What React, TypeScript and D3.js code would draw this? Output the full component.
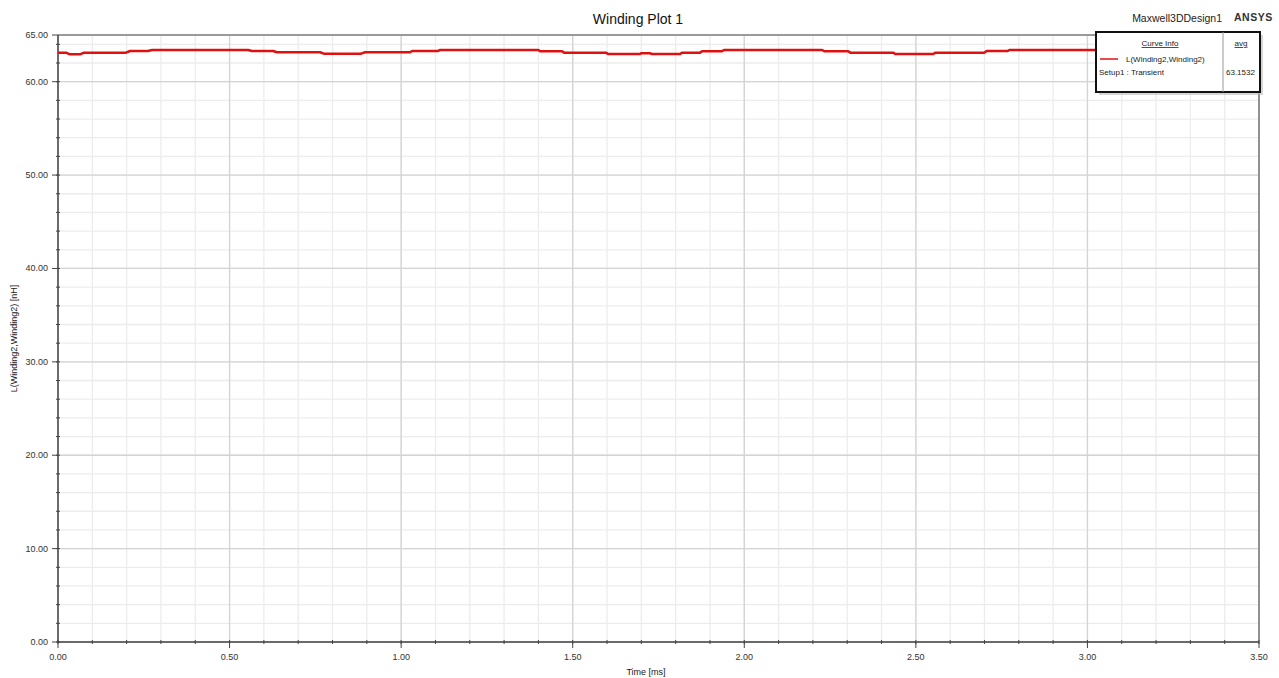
import React from "react";
import * as d3 from "d3";

const timeMs = [0, 0.023, 0.035, 0.064, 0.076, 0.198, 0.21, 0.262, 0.274, 0.554, 0.565, 0.627, 0.638, 0.764, 0.775, 0.883, 0.895, 1.026, 1.032, 1.108, 1.114, 1.4, 1.405, 1.469, 1.475, 1.597, 1.603, 1.696, 1.699, 1.725, 1.731, 1.813, 1.819, 1.871, 1.877, 1.935, 1.941, 2.227, 2.233, 2.303, 2.309, 2.434, 2.44, 2.551, 2.557, 2.7, 2.706, 2.768, 2.774, 3.5];
const inductance = [63.11, 63.11, 62.93, 62.93, 63.11, 63.11, 63.29, 63.29, 63.4, 63.4, 63.29, 63.29, 63.15, 63.15, 63.0, 63.0, 63.15, 63.15, 63.29, 63.29, 63.4, 63.4, 63.26, 63.26, 63.11, 63.11, 62.97, 62.97, 63.04, 63.04, 62.97, 62.97, 63.11, 63.11, 63.26, 63.26, 63.4, 63.4, 63.26, 63.26, 63.11, 63.11, 62.97, 62.97, 63.11, 63.11, 63.29, 63.29, 63.4, 63.4];
const xTicks = [0, 0.5, 1.0, 1.5, 2.0, 2.5, 3.0, 3.5];
const yTicks = [0, 10, 20, 30, 40, 50, 60, 65];
const title = "Winding Plot 1";
const xLabel = "Time [ms]";
const yLabel = "L(Winding2,Winding2) [nH]";
const seriesName = "L(Winding2,Winding2)";
const setupName = "Setup1 : Transient";
const avgValue = "63.1532";

export default function App() {
  const W = 1279, H = 678;
  const L = 58, R = 1259, T = 35, B = 642;
  const x = d3.scaleLinear().domain([0, 3.5]).range([L, R]);
  const y = d3.scaleLinear().domain([0, 65]).range([B, T]);
  const minorX = d3.range(0, 3.5001, 0.1).map((v) => +v.toFixed(2));
  const minorY = d3.range(0, 65.001, 2);
  const pts = timeMs.map((t, i) => [t, inductance[i]] as [number, number]);
  const line = d3.line<[number, number]>().x((d) => x(d[0])).y((d) => y(d[1]));
  const font = "'Liberation Sans', Arial, sans-serif";
  const lx = 1096, ly = 32, lw = 164, lh = 60;
  return (
    <svg width={W} height={H} style={{ position: "absolute", left: 0, top: 0, background: "#fff" }} fontFamily={font}>
      <rect x={0} y={0} width={W} height={H} fill="#fff" />
      {minorX.map((v, i) => (
        <line key={"mx" + i} x1={x(v)} x2={x(v)} y1={T} y2={B} stroke="#ececec" strokeWidth={1.3} />
      ))}
      {minorY.map((v, i) => (
        <line key={"my" + i} x1={L} x2={R} y1={y(v)} y2={y(v)} stroke="#ececec" strokeWidth={1.3} />
      ))}
      {xTicks.map((v, i) => (
        <line key={"gx" + i} x1={x(v)} x2={x(v)} y1={T} y2={B} stroke="#d4d4d4" strokeWidth={1.3} />
      ))}
      {yTicks.map((v, i) => (
        <line key={"gy" + i} x1={L} x2={R} y1={y(v)} y2={y(v)} stroke="#d4d4d4" strokeWidth={1.3} />
      ))}
      <line x1={L} x2={R} y1={T} y2={T} stroke="#9a9a9a" strokeWidth={2} />
      <line x1={R} x2={R} y1={T} y2={B} stroke="#777" strokeWidth={1.5} />
      <line x1={L} x2={L} y1={T} y2={B + 1} stroke="#444" strokeWidth={1.5} />
      <line x1={L - 1} x2={R} y1={B} y2={B} stroke="#444" strokeWidth={1.5} />
      {minorX.map((v, i) => (
        <line key={"tx" + i} x1={x(v)} x2={x(v)} y1={B - 2} y2={B + 2} stroke="#444" strokeWidth={1} />
      ))}
      {minorY.map((v, i) => (
        <line key={"ty" + i} x1={L - 2} x2={L + 2} y1={y(v)} y2={y(v)} stroke="#444" strokeWidth={1} />
      ))}
      {xTicks.map((v, i) => (
        <g key={"xl" + i}>
          <line x1={x(v)} x2={x(v)} y1={B} y2={B + 6} stroke="#444" strokeWidth={1} />
          <text x={x(v)} y={B + 18} textAnchor="middle" fontSize={9} fill="#333">{v.toFixed(2)}</text>
        </g>
      ))}
      {yTicks.map((v, i) => (
        <g key={"yl" + i}>
          <line x1={L - 6} x2={L} y1={y(v)} y2={y(v)} stroke="#444" strokeWidth={1} />
          <text x={L - 10} y={y(v) + 3} textAnchor="end" fontSize={9} fill="#333">{v.toFixed(2)}</text>
        </g>
      ))}
      <path d={line(pts) || ""} fill="none" stroke="#e01010" strokeWidth={2.5} strokeLinejoin="round" />
      <text x={638} y={24} textAnchor="middle" fontSize={14} fill="#111">{title}</text>
      <text x={1222} y={22} textAnchor="end" fontSize={10.5} fill="#222">Maxwell3DDesign1</text>
      <text x={1234} y={21} fontSize={10.5} fontWeight="bold" fill="#333" letterSpacing={0.5}>ANSYS</text>
      <text x={646} y={675} textAnchor="middle" fontSize={9} fill="#222">{xLabel}</text>
      <text transform={`translate(17,${(T + B) / 2}) rotate(-90)`} textAnchor="middle" fontSize={9} fill="#222">{yLabel}</text>
      <rect x={lx + 3} y={ly + 3} width={lw} height={lh} fill="#bbb" opacity={0.6} />
      <rect x={lx} y={ly} width={lw} height={lh} fill="#fff" stroke="#111" strokeWidth={2} />
      <line x1={1223} x2={1223} y1={ly} y2={ly + lh} stroke="#999" strokeWidth={1} />
      <text x={1160} y={46} textAnchor="middle" fontSize={8} fill="#222" textDecoration="underline">Curve Info</text>
      <text x={1241} y={46} textAnchor="middle" fontSize={8} fill="#222" textDecoration="underline">avg</text>
      <line x1={1100} x2={1118} y1={59} y2={59} stroke="#e01010" strokeWidth={1.5} />
      <text x={1126} y={62} fontSize={8} fill="#222">{seriesName}</text>
      <text x={1099} y={75} fontSize={8} fill="#222">{setupName}</text>
      <text x={1226} y={75} fontSize={8} fill="#222">{avgValue}</text>
    </svg>
  );
}
